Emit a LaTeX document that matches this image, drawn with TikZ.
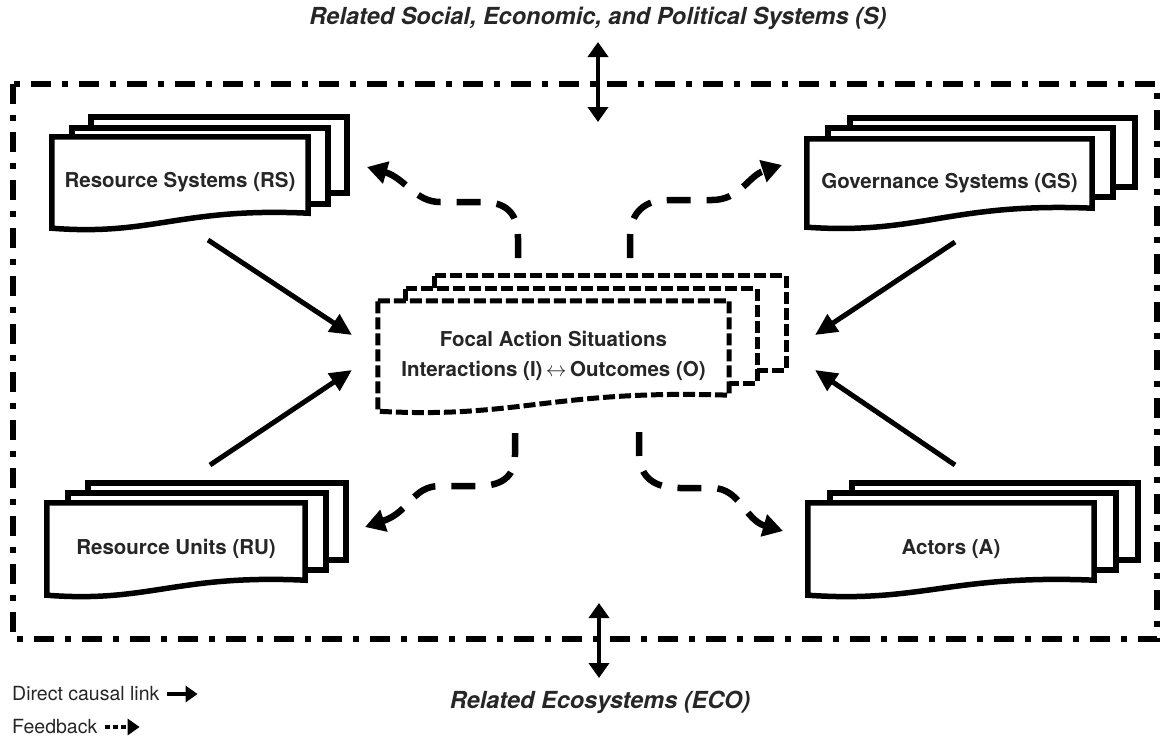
\documentclass[tikz,border=0pt]{standalone}
\usepackage{fontspec}
\setmainfont{TeX Gyre Heros}
\usetikzlibrary{arrows.meta,calc,backgrounds}
\tikzset{
  boxline/.style={line width=5.5pt, line join=miter, draw=black},
  fasline/.style={line width=5pt, draw=black, dash pattern=on 12pt off 4pt},
  boxlabel/.style={inner sep=0pt, font=\fontsize{20.5}{30}\selectfont\bfseries, text=black!85, align=center},
  causal/.style={line width=5pt, -{Triangle[length=22pt,width=20pt]}},
  feedback/.style={line width=6.5pt, dash pattern=on 24pt off 16pt, -{Triangle[length=20pt,width=22pt]}},
  outer/.style={line width=5.5pt, dash pattern=on 20pt off 11pt on 6pt off 11pt},
  dbl/.style={line width=4pt, {Triangle[length=15pt,width=20pt]}-{Triangle[length=15pt,width=20pt]}},
  titletext/.style={font=\fontsize{23.5}{28}\selectfont\bfseries\itshape, text=black!85},
  legtext/.style={font=\fontsize{19.5}{22}\selectfont, text=black!85, anchor=west, inner sep=0pt}
}
% #1 node, #2 drop of right bottom, #3 style, #4 shift middle, #5 shift back, #6 wave offset
\newcommand\docstack[6]{%
  \coordinate (#1-br) at ($(#1.south east)+(0,-#2)$);
  \draw[#3,fill=white] ($(#1.north west)+#5$) rectangle ($(#1-br)+#5$);
  \draw[#3,fill=white] ($(#1.north west)+#4$) rectangle ($(#1-br)+#4$);
  \draw[#3,fill=white] (#1.north west) -- (#1.north east) -- (#1-br)
     .. controls ($(#1.south)+(0,-#2-6)$) and ($(#1.south)+(-#6,8)$) .. (#1.south west) -- cycle;
}
\begin{document}
\begin{tikzpicture}[x=1pt,y=-1pt]
\useasboundingbox (0,0) rectangle (1171,742);

% outer frame
\draw[outer] (13,84) rectangle (1157,639);

% titles
\node[titletext] (titleS) at (598,18) {Related Social, Economic, and Political Systems (S)};
\node[titletext] (titleECO) at (600,702) {Related Ecosystems (ECO)};
\coordinate (sTop) at (598,42);
\coordinate (sBot) at (598,122);
\coordinate (eTop) at (599,603);
\coordinate (eBot) at (599,678);
\draw[dbl] (sTop) -- (sBot);
\draw[dbl] (eTop) -- (eBot);

% boxes
\node[boxlabel, minimum width=256pt, minimum height=91pt] (rs) at (180,182.5) {Resource Systems (RS)};
\node[boxlabel, minimum width=285pt, minimum height=88pt] (gs) at (949.5,183) {Governance Systems (GS)};
\node[boxlabel, minimum width=258pt, minimum height=92pt] (ru) at (176,549) {Resource Units (RU)};
\node[boxlabel, minimum width=286pt, minimum height=92pt] (a) at (951,549) {Actors (A)};
\node[boxlabel, minimum width=351pt, minimum height=110pt] (fas) at (553.5,356) {Focal Action Situations\\Interactions (I)\,$\leftrightarrow$\,Outcomes (O)};

\begin{pgfonlayer}{background}
  \docstack{rs}{15}{boxline}{(20,-9)}{(39,-20)}{27}
  \docstack{gs}{19}{boxline}{(21,-11)}{(43,-21)}{29}
  \docstack{ru}{15}{boxline}{(21,-10)}{(41,-20)}{27}
  \docstack{a}{15}{boxline}{(22,-10)}{(44,-20)}{29}
  \docstack{fas}{16}{fasline}{(28,-12)}{(57,-25)}{36}
\end{pgfonlayer}

% direct causal links
\coordinate (rsOut) at (208,240);
\coordinate (ruOut) at (210,465);
\coordinate (gsOut) at (955,242);
\coordinate (aOut) at (955,465);
\coordinate (fasInRS) at (352,335);
\coordinate (fasInRU) at (352,370);
\coordinate (fasInGS) at (815,335);
\coordinate (fasInA) at (815,370);
\draw[causal] (rsOut) -- (fasInRS);
\draw[causal] (ruOut) -- (fasInRU);
\draw[causal] (gsOut) -- (fasInGS);
\draw[causal] (aOut) -- (fasInA);

% feedback
\coordinate (fbTL) at (518,258);
\coordinate (fbTR) at (630,258);
\coordinate (fbBL) at (515,433);
\coordinate (fbBR) at (639,432);
\coordinate (rsIn) at (367,167);
\coordinate (gsIn) at (782,165);
\coordinate (ruIn) at (365,527);
\coordinate (aIn) at (783,531);
\draw[feedback] (fbTL) -- (518,238) .. controls (518,212) and (505,202) .. (482,202) -- (440,202) .. controls (415,202) and (405,178) .. (rsIn);
\draw[feedback] (fbTR) -- (630,238) .. controls (630,212) and (645,200) .. (668,200) -- (712,200) .. controls (740,200) and (748,176) .. (gsIn);
\draw[feedback] (fbBL) -- (515,455) .. controls (515,478) and (500,486) .. (478,486) -- (440,486) .. controls (412,486) and (410,512) .. (ruIn);
\draw[feedback] (fbBR) -- (639,452) .. controls (639,478) and (655,488) .. (680,488) -- (712,488) .. controls (740,488) and (745,520) .. (aIn);

% legend
\node[legtext] (legD) at (12,694) {Direct causal link};
\node[legtext] (legF) at (12,727) {Feedback};
\coordinate (legDa) at ($(legD.east)+(7,0)$);
\coordinate (legDb) at ($(legD.east)+(38,0)$);
\coordinate (legFa) at ($(legF.east)+(7,0)$);
\coordinate (legFb) at ($(legF.east)+(42,0)$);
\draw[line width=4pt, -{Triangle[length=12pt,width=16pt]}] (legDa) -- (legDb);
\draw[line width=4pt, dash pattern=on 5pt off 3pt, -{Triangle[length=12pt,width=16pt]}] (legFa) -- (legFb);
\end{tikzpicture}
\end{document}
